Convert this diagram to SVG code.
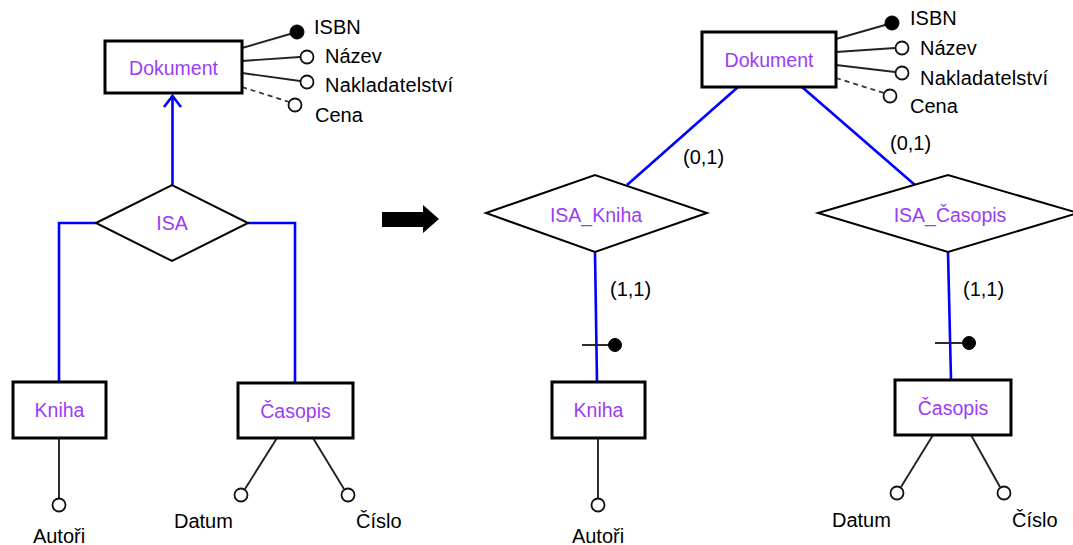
<svg xmlns="http://www.w3.org/2000/svg" width="1073" height="545" viewBox="0 0 1073 545">
<style>
.ent{fill:#fff;stroke:#000;stroke-width:3}
.rel{fill:#fff;stroke:#000;stroke-width:2}
.pt{font-family:"Liberation Sans",Arial,sans-serif;font-size:19.5px;fill:#9b3cf5;text-anchor:middle}
.bt{font-family:"Liberation Sans",Arial,sans-serif;font-size:20px;fill:#000}
.blue{fill:none;stroke:#0000ff;stroke-width:2.6}
.al{stroke:#222;stroke-width:1.9;fill:none}
.dash{stroke:#333;stroke-width:1.8;stroke-dasharray:5,4;fill:none}
.oc{fill:#fff;stroke:#111;stroke-width:1.8}
.fc{fill:#000;stroke:#000;stroke-width:1}
</style>
<rect width="1073" height="545" fill="#fff"/>
<g id="connectors">
<path class="blue" d="M172.5,185 V96 M164,107 L172.5,96 L181,107"/>
<path class="blue" d="M96,223 H59 V382"/>
<path class="blue" d="M248,223 H295 V383"/>
<line class="al" x1="242" y1="48" x2="297" y2="32"/>
<line class="al" x1="242" y1="61" x2="300" y2="57"/>
<line class="al" x1="242" y1="73" x2="300" y2="81"/>
<line class="dash" x1="242" y1="87" x2="289" y2="102"/>
<line class="al" x1="59" y1="438" x2="59" y2="498"/>
<line class="al" x1="277" y1="438" x2="245" y2="489"/>
<line class="al" x1="313" y1="438" x2="344" y2="489"/>
<path d="M382,212 H423 V205 L439,219 L423,233 V227 H382 Z" fill="#000"/>
<line class="blue" x1="738" y1="87" x2="627" y2="185"/>
<line class="blue" x1="802" y1="87" x2="915" y2="185"/>
<line class="blue" x1="595" y1="252" x2="597" y2="382"/>
<line class="blue" x1="948" y1="252" x2="951" y2="380"/>
<line class="al" x1="582" y1="345" x2="612" y2="345"/>
<circle class="fc" cx="615" cy="345" r="6.5"/>
<line class="al" x1="935" y1="343" x2="966" y2="343"/>
<circle class="fc" cx="969" cy="343" r="6.5"/>
<line class="al" x1="836" y1="39" x2="892" y2="23"/>
<line class="al" x1="836" y1="52" x2="895" y2="48"/>
<line class="al" x1="836" y1="65" x2="895" y2="72"/>
<line class="dash" x1="836" y1="78" x2="884" y2="93"/>
<line class="al" x1="598" y1="438" x2="598" y2="498"/>
<line class="al" x1="933" y1="435" x2="901" y2="487"/>
<line class="al" x1="971" y1="435" x2="1000" y2="487"/>
</g>
<g id="left-dokument">
<rect class="ent" x="105" y="41" width="137" height="52"/>
<text class="pt" x="173.5" y="75">Dokument</text>
</g>
<g id="left-dokument-attrs">
<circle class="fc" cx="297" cy="32" r="7"/>
<text class="bt" x="314" y="34">ISBN</text>
<circle class="oc" cx="307" cy="57" r="6.5"/>
<text class="bt" x="325" y="63">Název</text>
<circle class="oc" cx="307" cy="82" r="6.5"/>
<text class="bt" x="325" y="92" textLength="128">Nakladatelství</text>
<circle class="oc" cx="295" cy="105" r="6.5"/>
<text class="bt" x="315" y="122">Cena</text>
</g>
<g id="left-isa">
<polygon class="rel" points="96,223 172,185 248,223 172,261"/>
<text class="pt" x="172" y="230">ISA</text>
</g>
<g id="left-kniha">
<rect class="ent" x="13" y="382" width="93" height="56"/>
<text class="pt" x="59.5" y="417">Kniha</text>
<circle class="oc" cx="59" cy="505" r="6.5"/>
<text class="bt" x="59" y="543" text-anchor="middle">Autoři</text>
</g>
<g id="left-casopis">
<rect class="ent" x="238" y="383" width="115" height="55"/>
<text class="pt" x="295.5" y="418">Časopis</text>
<circle class="oc" cx="241" cy="495" r="6.5"/>
<text class="bt" x="174" y="528">Datum</text>
<circle class="oc" cx="348" cy="495" r="6.5"/>
<text class="bt" x="356" y="528">Číslo</text>
</g>
<g id="right-dokument">
<rect class="ent" x="702" y="32" width="134" height="55"/>
<text class="pt" x="769" y="67">Dokument</text>
<circle class="fc" cx="892" cy="23" r="7"/>
<text class="bt" x="910" y="25">ISBN</text>
<circle class="oc" cx="902" cy="48" r="6.5"/>
<text class="bt" x="920" y="55">Název</text>
<circle class="oc" cx="902" cy="73" r="6.5"/>
<text class="bt" x="920" y="85" textLength="128">Nakladatelství</text>
<circle class="oc" cx="890" cy="96" r="6.5"/>
<text class="bt" x="910" y="113">Cena</text>
</g>
<g id="right-isa-kniha">
<polygon class="rel" points="486,213 595,175 707,213 595,252"/>
<text class="pt" x="596" y="222">ISA_Kniha</text>
<text class="bt" x="683" y="164">(0,1)</text>
<text class="bt" x="610" y="296">(1,1)</text>
</g>
<g id="right-isa-casopis">
<polygon class="rel" points="818,213 948,175 1078,213 948,252"/>
<text class="pt" x="950" y="222">ISA_Časopis</text>
<text class="bt" x="890" y="150">(0,1)</text>
<text class="bt" x="963" y="296">(1,1)</text>
</g>
<g id="right-kniha">
<rect class="ent" x="552" y="382" width="93" height="56"/>
<text class="pt" x="598.5" y="417">Kniha</text>
<circle class="oc" cx="598" cy="505" r="6.5"/>
<text class="bt" x="598" y="543" text-anchor="middle">Autoři</text>
</g>
<g id="right-casopis">
<rect class="ent" x="895" y="380" width="116" height="55"/>
<text class="pt" x="953" y="415">Časopis</text>
<circle class="oc" cx="897" cy="493" r="6.5"/>
<text class="bt" x="832" y="527">Datum</text>
<circle class="oc" cx="1004" cy="493" r="6.5"/>
<text class="bt" x="1012" y="527">Číslo</text>
</g>
</svg>
